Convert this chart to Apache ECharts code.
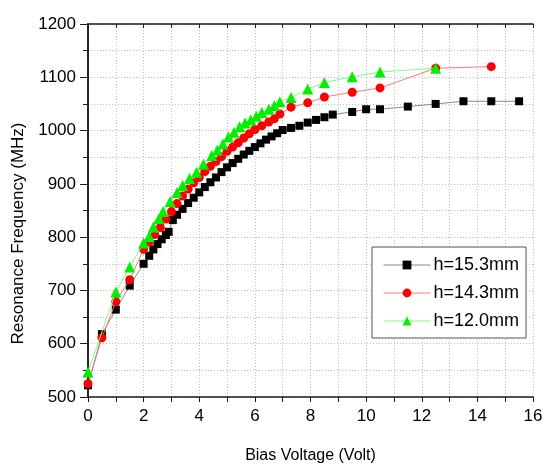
<!DOCTYPE html>
<html>
<head>
<meta charset="utf-8">
<script src="https://cdn.jsdelivr.net/npm/echarts@6/dist/echarts.min.js"></script>
<style>html,body{margin:0;padding:0;background:#fff}#c{width:544px;height:464px}</style>
</head>
<body>
<div id="c"></div>
<script>
var seriesNames = ['h=15.3mm', 'h=14.3mm', 'h=12.0mm'];
var voltA = [0,0.5,1,1.5,2,2.2,2.35,2.5,2.65,2.8,2.9,3.05,3.2,3.4,3.6,3.8,4.0,4.2,4.4,4.6,4.8,5.0,5.2,5.4,5.6,5.8,6.0,6.2,6.4,6.6,6.8,7.0,7.3,7.6,7.9,8.2,8.5,8.8,9.5,10.0,10.5,11.5,12.5,13.5,14.5,15.5];
var freqA = [522,618,664,709,750,765,777,787,796,804,810,832,842,853,864,874,884,894,903,912,922,931,939,947,955,962,969,976,983,989,995,1001,1005,1009,1015,1020,1025,1030,1035,1040,1040,1045,1050,1055,1055,1055];
var voltB = [0,0.5,1,1.5,2,2.2,2.4,2.6,2.8,3.0,3.2,3.4,3.6,3.8,4.0,4.2,4.4,4.6,4.8,5.0,5.2,5.4,5.6,5.8,6.0,6.25,6.5,6.7,6.9,7.3,7.9,8.5,9.5,10.5,12.5,14.5];
var freqB = [525,611,679,720,777,791,805,818,834,848,863,877,890,902,912,923,933,942,951,961,969,977,986,994,1002,1009,1016,1022,1031,1044,1052,1063,1072,1080,1117,1120];
var voltC = [0,1,1.5,2,2.2,2.35,2.55,2.7,2.95,3.2,3.4,3.65,3.9,4.15,4.45,4.65,4.85,5.05,5.25,5.45,5.65,5.85,6.05,6.25,6.5,6.7,6.9,7.3,7.9,8.5,9.5,10.5,12.5];
var freqC = [547,697,744,789,801,819,835,848,867,884,897,910,922,937,953,963,975,988,997,1007,1014,1020,1027,1034,1040,1047,1054,1062,1078,1090,1101,1110,1117];

function zip(a, b) { return a.map(function (v, i) { return [v, b[i]]; }); }

var chart = echarts.init(document.getElementById('c'), null, {renderer: 'canvas'});
var font = 'Liberation Sans, Arial, sans-serif';
var gridLine = {show: true, lineStyle: {color: '#bdbdbd', type: [1, 2], width: 1}};
var axisLine = {show: true, lineStyle: {color: '#1a1a1a', width: 1.5}};
var lineColors = ['#8a8a8a', '#ff7777', '#80ff80'];

chart.setOption({
  animation: false,
  backgroundColor: '#fff',
  grid: {left: 88, right: 11, top: 24, bottom: 67, containLabel: false, outerBoundsMode: 'none'},
  legend: {
    left: 372, top: 247, orient: 'vertical',
    padding: [9, 7, 8, 11], itemGap: 10, itemWidth: 47, itemHeight: 11,
    borderColor: '#555', borderWidth: 1, backgroundColor: '#fff',
    textStyle: {fontFamily: font, fontSize: 18, color: '#000', lineHeight: 16, padding: [0, 0, 0, -2]},
    data: seriesNames.map(function (n, i) { return {name: n, lineStyle: {color: lineColors[i], width: 1}}; })
  },
  xAxis: [{
    type: 'value', min: 0, max: 16, interval: 2,
    name: 'Bias Voltage (Volt)', nameLocation: 'middle', nameGap: 51,
    nameTextStyle: {fontFamily: font, fontSize: 16, color: '#000'},
    axisLine: axisLine,
    axisTick: {show: true, inside: false, length: 5, lineStyle: {color: '#1a1a1a'}},
    minorTick: {show: true, splitNumber: 2, length: 5, lineStyle: {color: '#1a1a1a'}},
    axisLabel: {fontFamily: font, fontSize: 17, color: '#000', margin: 11},
    splitLine: gridLine, minorSplitLine: gridLine
  }, {
    type: 'value', position: 'top', min: 0, max: 16, interval: 2,
    axisLine: axisLine,
    axisTick: {show: true, inside: true, length: 4, lineStyle: {color: '#1a1a1a'}},
    minorTick: {show: true, splitNumber: 2, length: 4, lineStyle: {color: '#1a1a1a'}},
    axisLabel: {show: false}, splitLine: {show: false}
  }],
  yAxis: [{
    type: 'value', min: 500, max: 1200, interval: 100,
    name: 'Resonance Frequency (MHz)', nameLocation: 'middle', nameGap: 51,
    nameTextStyle: {fontFamily: font, fontSize: 17, color: '#000', padding: [0, 46, 0, 0]},
    axisLine: axisLine,
    axisTick: {show: true, inside: false, length: 8, lineStyle: {color: '#1a1a1a'}},
    minorTick: {show: true, splitNumber: 2, length: 4, lineStyle: {color: '#1a1a1a'}},
    axisLabel: {fontFamily: font, fontSize: 17, color: '#000', margin: 12, formatter: function (v) { return String(v); }},
    splitLine: gridLine, minorSplitLine: gridLine
  }, {
    type: 'value', position: 'right', min: 500, max: 1200, interval: 100,
    axisLine: axisLine,
    axisTick: {show: true, inside: true, length: 5, lineStyle: {color: '#1a1a1a'}},
    minorTick: {show: true, splitNumber: 2, length: 5, lineStyle: {color: '#1a1a1a'}},
    axisLabel: {show: false}, splitLine: {show: false}
  }],
  series: [{
    name: seriesNames[0], type: 'line', data: zip(voltA, freqA),
    symbol: 'rect', symbolSize: 8,
    itemStyle: {color: '#000'}, lineStyle: {color: lineColors[0], width: 1}, z: 3
  }, {
    name: seriesNames[1], type: 'line', data: zip(voltB, freqB),
    symbol: 'circle', symbolSize: 9,
    itemStyle: {color: '#ff0000'}, lineStyle: {color: lineColors[1], width: 1}, z: 4
  }, {
    name: seriesNames[2], type: 'line', data: zip(voltC, freqC),
    symbol: 'triangle', symbolSize: 11,
    itemStyle: {color: '#00f000'}, lineStyle: {color: lineColors[2], width: 1}, z: 5
  }]
});
</script>
</body>
</html>
